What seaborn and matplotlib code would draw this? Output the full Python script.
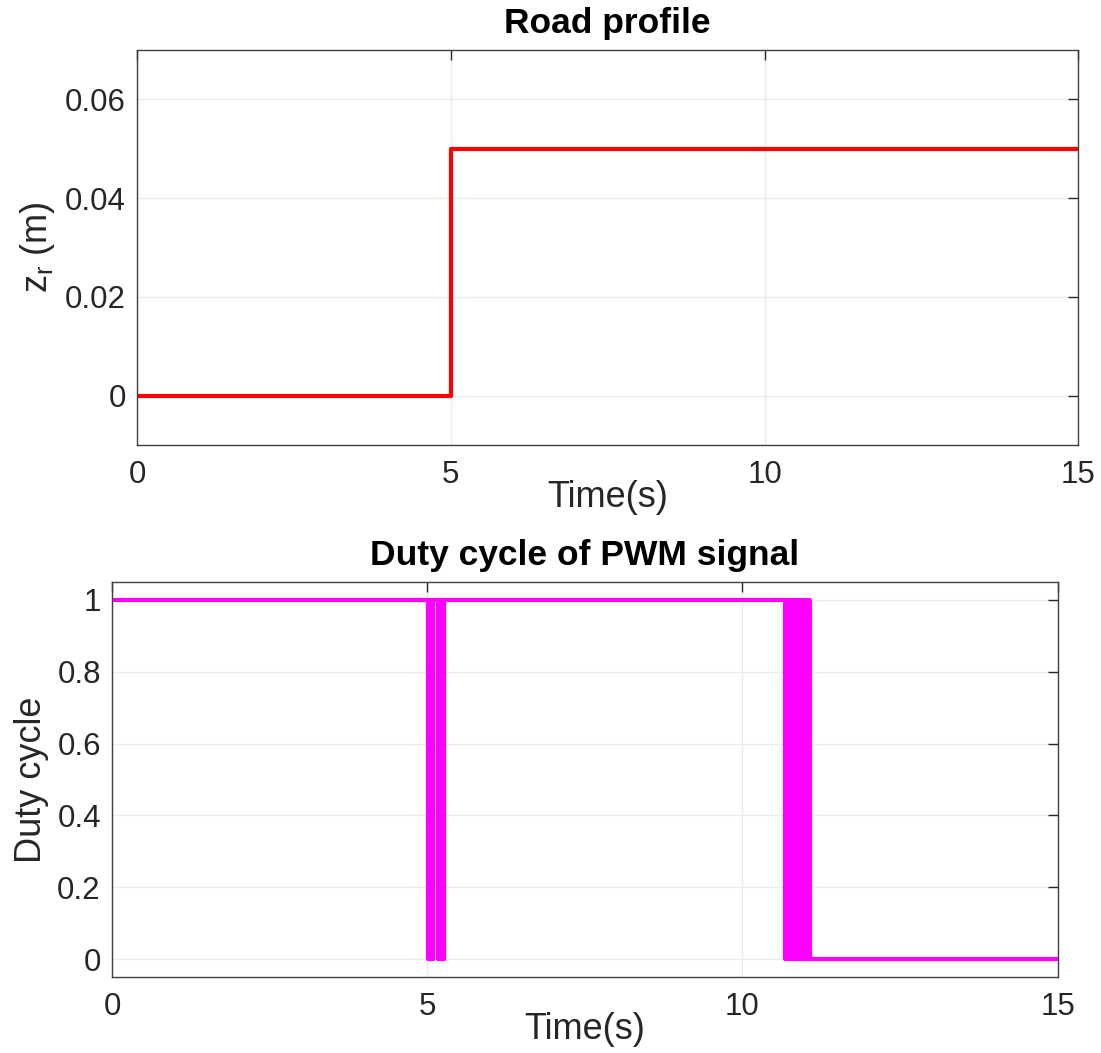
import matplotlib
matplotlib.use("Agg")
import matplotlib.pyplot as plt
import numpy as np
import pandas as pd
import seaborn as sns

sns.set_style("white")
plt.rcParams['font.family'] = ['Liberation Sans', 'DejaVu Sans']
plt.rcParams['mathtext.default'] = 'regular'

# road profile (step)
road_t = [0, 5, 5, 15]
road_z = [0, 0, 0.05, 0.05]

# duty cycle: starts at 1, toggles at these instants
duty_start = 1
burst1 = [5.01, 5.03, 5.05, 5.07, 5.09, 5.10]
burst2 = [5.18, 5.20, 5.22, 5.24, 5.26, 5.27]
burst3 = [10.68, 10.70, 10.72, 10.74, 10.76, 10.78, 10.80, 10.82, 10.84,
          10.86, 10.88, 10.90, 10.92, 10.94, 10.96, 10.98, 11.00, 11.02,
          11.04, 11.06, 11.07]
t_end = 15

x_ticks = [0, 5, 10, 15]
road_yticks = [0, 0.02, 0.04, 0.06]
duty_yticks = [0, 0.2, 0.4, 0.6, 0.8, 1]

# build step series from toggle times
pwm_t, pwm_d = [0], [duty_start]
lvl = duty_start
for t in burst1 + burst2 + burst3:
    pwm_t.append(t); pwm_d.append(lvl)
    lvl = 1 - lvl
    pwm_t.append(t); pwm_d.append(lvl)
pwm_t.append(t_end); pwm_d.append(lvl)

road_df = pd.DataFrame({"t": road_t, "z": road_z})
pwm_df = pd.DataFrame({"t": pwm_t, "d": pwm_d})

fig = plt.figure(figsize=(11.01, 10.53), dpi=100)
ax1 = fig.add_axes([0.1244, 0.5774, 0.8551, 0.3751])
ax2 = fig.add_axes([0.1017, 0.0722, 0.8588, 0.3751])

txt = '#262626'
sns.lineplot(data=road_df, x="t", y="z", ax=ax1, color='#ff0000', lw=3,
             estimator=None, sort=False)
sns.lineplot(data=pwm_df, x="t", y="d", ax=ax2, color='#ff00ff', lw=3,
             estimator=None, sort=False)

def style(ax, title, ylabel, yticks, ylim, yfmt):
    ax.set_xlim(0, 15)
    ax.set_ylim(*ylim)
    ax.set_xticks(x_ticks)
    ax.set_yticks(yticks)
    ax.set_yticklabels([yfmt(v) for v in yticks])
    ax.grid(True, color='#ebebeb', lw=1)
    ax.tick_params(direction='in', top=True, right=True, length=7,
                   width=1, colors=txt, labelsize=22.5)
    ax.tick_params(axis='x', pad=11)
    ax.tick_params(axis='y', pad=8)
    for s in ax.spines.values():
        s.set_color('#404040')
        s.set_linewidth(1)
    ax.set_title(title, fontsize=25.5, fontweight='bold', color='black', pad=12)
    ax.set_xlabel("Time(s)", fontsize=26, color=txt)
    ax.xaxis.set_label_coords(0.5, -0.088)
    ax.set_ylabel(ylabel, fontsize=26, color=txt, labelpad=6)

style(ax1, "Road profile", r"$\mathregular{z_r}$ (m)", road_yticks, (-0.01, 0.07),
      lambda v: "0" if v == 0 else f"{v:.2f}")
style(ax2, "Duty cycle of PWM signal", "Duty cycle", duty_yticks, (-0.05, 1.05),
      lambda v: f"{v:g}")

fig.savefig("out.png", dpi=100)
